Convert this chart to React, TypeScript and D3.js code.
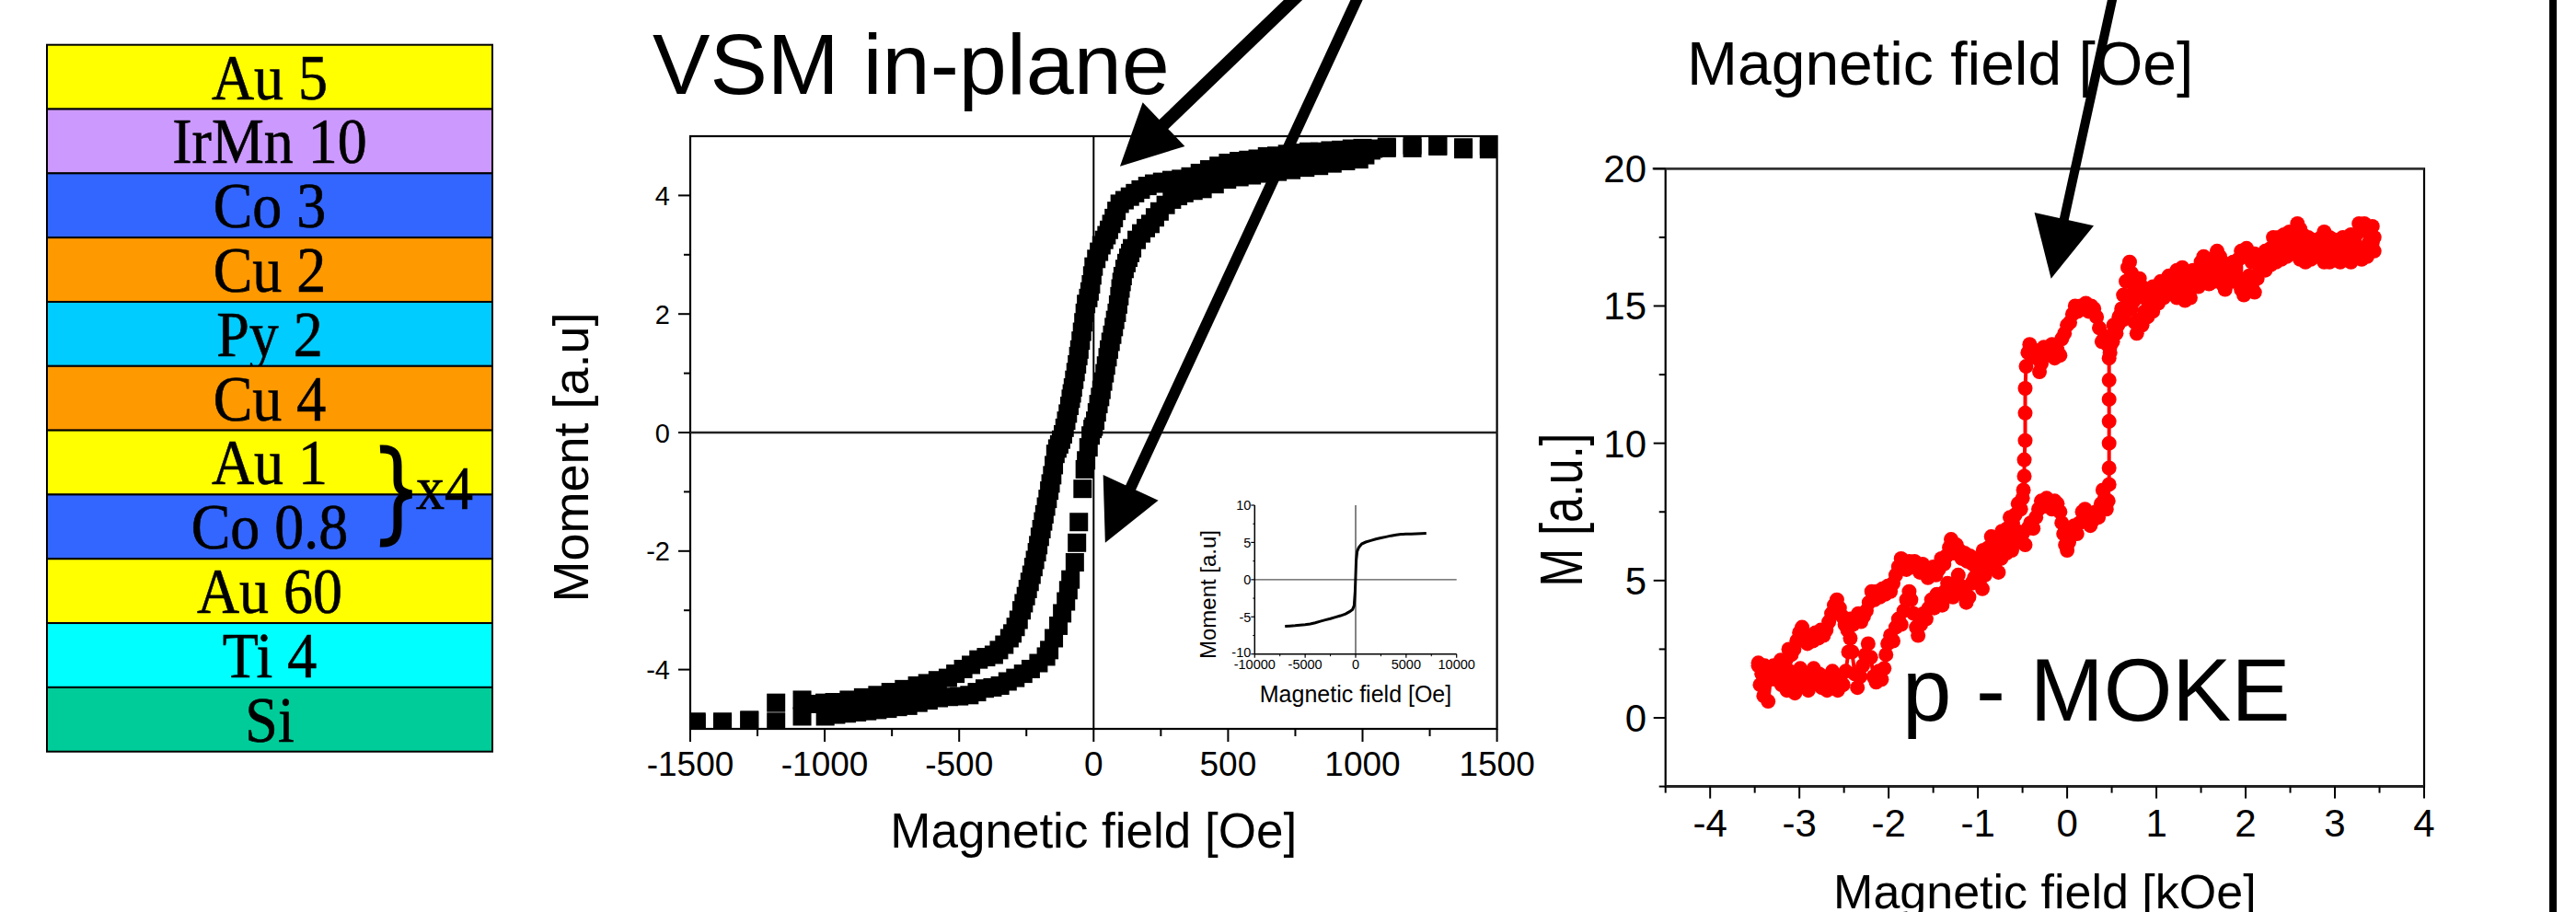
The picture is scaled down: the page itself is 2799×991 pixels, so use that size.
import React from "react";
import * as d3 from "d3";

const SANS = "'Liberation Sans', Arial, Helvetica, sans-serif";
const SERIF = "'Liberation Serif', 'Times New Roman', serif";

// sample stack, top to bottom (thickness in nm)
const layerNames = ["Au 5", "IrMn 10", "Co 3", "Cu 2", "Py 2", "Cu 4", "Au 1", "Co 0.8", "Au 60", "Ti 4", "Si"];
const layerColors = ["#ffff00", "#cc99ff", "#3366ff", "#ff9900", "#00ccff", "#ff9900", "#ffff00", "#3366ff", "#ffff00", "#00ffff", "#00cc99"];

// VSM in-plane loop, [field Oe, moment a.u.]
const vsmDescending: [number, number][] = [
  [1470, 4.84], [1375, 4.78], [1280, 4.83], [1185, 4.85], [1090, 4.8],
  [1040, 4.79], [1000, 4.8], [960, 4.79], [920, 4.77], [880, 4.76], [840, 4.74], [800, 4.74], [760, 4.72],
  [720, 4.7], [680, 4.67], [645, 4.66], [610, 4.62], [575, 4.6], [540, 4.58], [500, 4.55], [465, 4.5],
  [430, 4.44], [395, 4.38], [360, 4.32], [325, 4.28], [290, 4.26], [255, 4.23], [225, 4.2], [200, 4.16],
  [175, 4.1], [154, 4.04], [135, 3.98], [115, 3.92], [97, 3.86], [85, 3.74], [75, 3.62], [66, 3.52],
  [57, 3.42], [48, 3.33], [39, 3.25], [29, 3.16], [20, 3.05], [10, 2.93], [0, 2.8], [-5, 2.65],
  [-10, 2.5], [-15, 2.38], [-20, 2.27], [-28, 2.17], [-33, 2.02], [-38, 1.86], [-43, 1.7], [-48, 1.55],
  [-53, 1.4], [-57, 1.29], [-62, 1.15], [-67, 1.02], [-72, 0.89], [-77, 0.76], [-81, 0.66], [-85, 0.57],
  [-90, 0.45], [-96, 0.32], [-102, 0.2], [-108, 0.08], [-114, -0.03], [-121, -0.12], [-128, -0.2],
  [-135, -0.27], [-142, -0.36], [-148, -0.55], [-154, -0.72], [-160, -0.86], [-165, -0.98], [-171, -1.12],
  [-177, -1.25], [-183, -1.38], [-188, -1.5], [-194, -1.63], [-200, -1.76], [-206, -1.9], [-211, -2.02],
  [-218, -2.15], [-224, -2.27], [-231, -2.4], [-238, -2.52], [-245, -2.64], [-252, -2.76], [-260, -2.88],
  [-268, -3.0], [-279, -3.16], [-290, -3.28], [-302, -3.39], [-313, -3.47], [-332, -3.58], [-352, -3.67],
  [-371, -3.75], [-400, -3.79], [-428, -3.83], [-456, -3.92], [-485, -3.99], [-514, -4.07], [-542, -4.14],
  [-580, -4.18], [-618, -4.23], [-656, -4.27], [-705, -4.33], [-755, -4.38], [-804, -4.43], [-857, -4.47],
  [-910, -4.51], [-964, -4.55], [-1000, -4.56], [-1032, -4.58], [-1084, -4.51], [-1181, -4.56],
  [-1280, -4.86], [-1380, -4.88], [-1477, -4.88],
];
const vsmAscending: [number, number][] = [
  [-1477, -4.9], [-1380, -4.9], [-1280, -4.85], [-1181, -4.88], [-1084, -4.79],
  [-998, -4.79], [-958, -4.76], [-918, -4.74], [-880, -4.72], [-842, -4.7], [-804, -4.68], [-766, -4.66],
  [-728, -4.63], [-690, -4.61], [-652, -4.56], [-614, -4.52], [-576, -4.48], [-538, -4.46], [-500, -4.45],
  [-462, -4.43], [-434, -4.38], [-405, -4.32], [-376, -4.3], [-348, -4.27], [-320, -4.2], [-291, -4.14],
  [-262, -4.07], [-234, -3.99], [-205, -3.89], [-177, -3.78], [-165, -3.67], [-148, -3.47], [-131, -3.26],
  [-117, -3.05], [-103, -2.85], [-94, -2.66], [-86, -2.48], [-70, -2.19], [-62, -1.86], [-55, -1.51],
  [-41, -0.95], [-33, -0.62], [-28, -0.47], [-19, -0.25], [-11, -0.05], [-4, 0.06], [0, 0.1], [6, 0.2],
  [12, 0.34], [18, 0.48], [24, 0.6], [29, 0.72], [35, 0.86], [41, 1.0], [46, 1.13], [52, 1.27], [57, 1.4],
  [63, 1.53], [69, 1.65], [75, 1.78], [80, 1.9], [86, 2.02], [91, 2.16], [96, 2.3], [100, 2.43], [104, 2.54],
  [108, 2.64], [115, 2.76], [122, 2.86], [129, 2.95], [136, 3.03], [143, 3.11], [160, 3.25], [177, 3.36],
  [194, 3.45], [211, 3.52], [228, 3.63], [245, 3.73], [268, 3.84], [291, 3.93], [314, 3.99], [337, 4.04],
  [371, 4.08], [405, 4.11], [450, 4.19], [496, 4.27], [542, 4.31], [588, 4.34], [633, 4.37], [684, 4.4],
  [735, 4.43], [787, 4.47], [838, 4.5], [888, 4.54], [938, 4.58], [987, 4.61], [1010, 4.68], [1032, 4.76],
  [1090, 4.82], [1185, 4.8], [1280, 4.84], [1375, 4.81], [1470, 4.78],
];
const vsmMajorX = [-1500, -1000, -500, 0, 500, 1000, 1500];
const vsmMinorX = [-1250, -750, -250, 250, 750, 1250];
const vsmMajorY = [-4, -2, 0, 2, 4];
const vsmMinorY = [-3, -1, 1, 3];

// inset, wide field sweep
const insetLoop: [number, number][] = [
  [-7000, -6.25], [-6500, -6.22], [-6000, -6.18], [-5500, -6.12], [-5000, -6.06], [-4500, -5.95],
  [-4000, -5.8], [-3500, -5.6], [-3000, -5.42], [-2500, -5.25], [-2000, -5.05], [-1500, -4.85],
  [-1000, -4.6], [-600, -4.3], [-300, -4.0], [-150, -3.5], [-50, -1.5], [0, 0.5], [50, 2.5], [150, 3.8],
  [300, 4.3], [600, 4.8], [1000, 5.05], [1500, 5.25], [2000, 5.45], [2500, 5.6], [3000, 5.75], [3500, 5.9],
  [4000, 6.02], [4500, 6.1], [5000, 6.12], [5500, 6.15], [6000, 6.18], [6500, 6.2], [7000, 6.22],
];
const insetTicksX = [-10000, -5000, 0, 5000, 10000];
const insetMinorX = [-7500, -2500, 2500, 7500];
const insetTicksY = [-10, -5, 0, 5, 10];
const insetMinorY = [-7.5, -2.5, 2.5, 7.5];

// p-MOKE loop, [field kOe, M a.u.] -- rising sweep
const mokeAscending: [number, number][] = [
  [-3.46, 1.9], [-3.44, 1.2], [-3.42, 1.6], [-3.4, 0.8], [-3.38, 1.3], [-3.35, 0.6], [-3.32, 1.5], [-3.29, 1.9],
  [-3.26, 1.4], [-3.23, 1.8], [-3.2, 1.2], [-3.17, 1.6], [-3.14, 1.0], [-3.11, 1.7], [-3.08, 1.3], [-3.05, 0.9],
  [-3.02, 1.5], [-2.99, 1.8], [-2.96, 1.2], [-2.93, 1.6], [-2.9, 1.0], [-2.87, 1.4], [-2.84, 1.8], [-2.81, 1.3],
  [-2.78, 1.6], [-2.75, 1.1], [-2.72, 1.5], [-2.69, 1.0], [-2.66, 1.4], [-2.63, 1.7], [-2.6, 1.3], [-2.57, 1.0],
  [-2.54, 1.5], [-2.51, 1.2], [-2.48, 1.7], [-2.45, 2.4], [-2.43, 2.9], [-2.41, 2.4], [-2.38, 1.6], [-2.35, 1.1],
  [-2.32, 1.5], [-2.29, 1.9], [-2.26, 2.3], [-2.23, 2.7], [-2.2, 2.2], [-2.17, 1.5], [-2.14, 1.3], [-2.11, 1.7],
  [-2.08, 1.4], [-2.05, 1.8], [-2.03, 2.3], [-2.01, 2.7], [-1.98, 3.0], [-1.95, 2.8], [-1.92, 3.3], [-1.89, 3.6],
  [-1.86, 3.4], [-1.83, 3.9], [-1.8, 4.3], [-1.77, 4.6], [-1.75, 4.3], [-1.72, 3.8], [-1.69, 3.3], [-1.67, 3.0],
  [-1.64, 3.4], [-1.61, 3.8], [-1.58, 3.6], [-1.55, 4.0], [-1.52, 4.3], [-1.49, 4.0], [-1.46, 4.5], [-1.43, 4.2],
  [-1.4, 4.1], [-1.37, 4.6], [-1.34, 4.9], [-1.31, 4.5], [-1.28, 4.4], [-1.25, 4.9], [-1.22, 5.2], [-1.19, 4.8],
  [-1.16, 4.5], [-1.13, 4.2], [-1.1, 4.4], [-1.07, 4.9], [-1.04, 5.1], [-1.01, 5.4], [-0.98, 5.0], [-0.95, 4.7],
  [-0.92, 5.2], [-0.89, 5.6], [-0.86, 5.9], [-0.83, 5.5], [-0.8, 5.7], [-0.77, 5.3], [-0.74, 5.8], [-0.71, 6.2],
  [-0.68, 6.0], [-0.65, 6.4], [-0.62, 6.1], [-0.59, 6.5], [-0.56, 6.8], [-0.53, 6.4], [-0.5, 6.7], [-0.47, 6.3],
  [-0.44, 6.9], [-0.41, 7.1], [-0.38, 6.9], [-0.35, 7.3], [-0.32, 7.6], [-0.29, 7.9], [-0.26, 7.7], [-0.23, 8.0],
  [-0.2, 7.8], [-0.17, 7.6], [-0.14, 7.9], [-0.11, 7.8], [-0.08, 7.5], [-0.06, 7.1], [-0.04, 6.7], [-0.02, 6.3],
  [0.0, 6.1], [0.02, 6.4], [0.05, 6.8], [0.08, 7.0], [0.11, 6.7], [0.14, 7.1], [0.17, 7.5], [0.2, 7.6],
  [0.23, 7.3], [0.26, 7.0], [0.29, 7.2], [0.32, 7.5], [0.35, 7.3], [0.38, 7.8], [0.4, 8.3], [0.42, 8.0],
  [0.44, 7.6], [0.46, 7.9], [0.47, 8.5], [0.47, 9.1], [0.47, 10.0], [0.47, 10.8], [0.47, 11.6], [0.47, 12.3],
  [0.47, 13.1], [0.48, 13.5], [0.5, 13.9], [0.52, 14.3], [0.55, 14.0], [0.58, 14.6], [0.61, 14.9], [0.63, 15.4],
  [0.66, 15.9], [0.68, 16.4], [0.7, 16.6], [0.72, 16.2], [0.74, 15.5], [0.76, 14.4], [0.78, 14.0], [0.81, 14.5],
  [0.84, 14.3], [0.87, 14.8], [0.9, 14.6], [0.93, 15.0], [0.96, 14.8], [0.99, 15.3], [1.02, 15.1], [1.05, 15.6],
  [1.08, 15.3], [1.11, 15.7], [1.14, 15.5], [1.17, 15.9], [1.2, 15.6], [1.23, 15.3], [1.26, 15.7], [1.29, 15.4],
  [1.32, 15.2], [1.35, 15.6], [1.38, 15.3], [1.41, 15.8], [1.44, 16.1], [1.47, 15.7], [1.5, 16.2], [1.53, 15.9],
  [1.56, 16.3], [1.59, 15.8], [1.62, 16.1], [1.65, 15.9], [1.68, 16.3], [1.71, 16.0], [1.74, 15.8], [1.77, 15.6],
  [1.8, 15.9], [1.83, 16.2], [1.86, 15.9], [1.89, 16.3], [1.92, 16.0], [1.95, 15.6], [1.98, 15.4], [2.01, 15.8],
  [2.04, 16.1], [2.07, 15.7], [2.1, 15.5], [2.13, 16.0], [2.16, 16.3], [2.19, 16.6], [2.22, 16.3], [2.25, 16.7],
  [2.28, 16.5], [2.31, 16.9], [2.34, 16.6], [2.37, 16.9], [2.4, 16.7], [2.43, 17.0], [2.46, 16.8], [2.49, 17.1],
  [2.52, 16.9], [2.55, 17.2], [2.58, 16.9], [2.61, 16.7], [2.64, 16.9], [2.67, 16.6], [2.7, 16.9], [2.73, 16.7],
  [2.76, 17.0], [2.79, 16.8], [2.82, 17.1], [2.85, 16.8], [2.88, 16.6], [2.91, 16.9], [2.94, 16.6], [2.97, 16.8],
  [3.0, 17.0], [3.03, 16.7], [3.06, 16.6], [3.09, 16.9], [3.12, 17.1], [3.15, 16.8], [3.18, 16.6], [3.21, 16.9],
  [3.24, 17.2], [3.27, 16.9], [3.3, 16.7], [3.33, 17.0], [3.36, 16.8], [3.39, 17.1], [3.42, 17.3], [3.44, 17.0],
];
// p-MOKE loop -- falling sweep
const mokeDescending: [number, number][] = [
  [3.44, 17.5], [3.42, 17.9], [3.4, 17.6], [3.38, 17.3], [3.36, 17.7], [3.33, 18.0], [3.3, 17.8], [3.27, 18.0],
  [3.24, 17.6], [3.21, 17.3], [3.18, 17.6], [3.15, 17.4], [3.12, 17.2], [3.09, 17.5], [3.06, 17.3], [3.03, 17.1],
  [3.0, 17.4], [2.97, 17.2], [2.94, 17.5], [2.91, 17.3], [2.88, 17.7], [2.85, 17.5], [2.82, 17.2], [2.79, 17.4],
  [2.76, 17.1], [2.73, 17.3], [2.7, 17.5], [2.67, 17.3], [2.64, 17.6], [2.61, 17.8], [2.58, 18.0], [2.55, 17.7],
  [2.52, 17.5], [2.49, 17.7], [2.46, 17.4], [2.43, 17.6], [2.4, 17.3], [2.37, 17.5], [2.34, 17.2], [2.31, 17.5],
  [2.28, 17.1], [2.25, 16.8], [2.22, 17.0], [2.19, 16.7], [2.16, 16.4], [2.13, 16.7], [2.1, 16.9], [2.07, 16.6],
  [2.04, 16.9], [2.01, 17.1], [1.98, 16.8], [1.95, 17.0], [1.92, 16.7], [1.89, 16.4], [1.86, 16.6], [1.83, 16.2],
  [1.8, 16.0], [1.77, 16.3], [1.74, 16.6], [1.71, 16.8], [1.68, 17.0], [1.65, 16.7], [1.62, 16.4], [1.59, 16.7],
  [1.56, 16.5], [1.53, 16.8], [1.5, 16.6], [1.47, 16.3], [1.44, 16.0], [1.41, 16.3], [1.38, 16.1], [1.35, 15.9],
  [1.32, 16.2], [1.29, 16.4], [1.26, 16.1], [1.23, 16.3], [1.2, 16.0], [1.17, 15.8], [1.14, 16.1], [1.11, 15.9],
  [1.08, 15.7], [1.05, 15.9], [1.02, 15.6], [0.99, 15.4], [0.96, 15.7], [0.93, 15.5], [0.9, 15.2], [0.87, 15.4],
  [0.84, 15.7], [0.81, 16.0], [0.78, 15.6], [0.75, 15.2], [0.72, 14.9], [0.69, 15.2], [0.66, 14.8], [0.63, 14.5],
  [0.6, 14.7], [0.57, 14.3], [0.54, 14.0], [0.51, 13.7], [0.48, 13.3], [0.45, 13.6], [0.42, 13.9], [0.39, 13.7],
  [0.36, 14.2], [0.33, 14.6], [0.3, 14.9], [0.27, 15.0], [0.24, 14.8], [0.21, 15.1], [0.18, 14.9], [0.15, 15.0],
  [0.12, 14.8], [0.09, 15.0], [0.06, 14.7], [0.03, 14.4], [0.0, 14.3], [-0.03, 14.0], [-0.06, 13.8], [-0.08, 13.2],
  [-0.11, 13.4], [-0.14, 13.1], [-0.17, 13.6], [-0.2, 13.4], [-0.23, 13.2], [-0.26, 13.5], [-0.29, 12.9],
  [-0.31, 12.6], [-0.34, 13.1], [-0.37, 13.4], [-0.4, 13.2], [-0.42, 13.6], [-0.44, 13.3], [-0.46, 12.8],
  [-0.47, 12.0], [-0.47, 11.1], [-0.47, 10.1], [-0.48, 9.4], [-0.48, 8.8], [-0.49, 8.3], [-0.5, 8.0], [-0.52, 7.6],
  [-0.55, 7.8], [-0.58, 7.4], [-0.61, 7.1], [-0.64, 7.3], [-0.67, 6.9], [-0.7, 6.6], [-0.73, 6.8], [-0.76, 6.4],
  [-0.79, 6.1], [-0.82, 6.4], [-0.85, 6.6], [-0.88, 6.2], [-0.91, 5.9], [-0.94, 6.1], [-0.97, 5.7], [-1.0, 5.4],
  [-1.03, 5.8], [-1.06, 5.6], [-1.09, 5.9], [-1.12, 5.7], [-1.15, 6.0], [-1.18, 5.8], [-1.21, 6.1], [-1.24, 6.3],
  [-1.27, 6.0], [-1.3, 6.5], [-1.32, 6.2], [-1.35, 5.9], [-1.38, 5.6], [-1.41, 5.8], [-1.44, 5.4], [-1.47, 5.2],
  [-1.5, 5.5], [-1.53, 5.3], [-1.56, 5.1], [-1.59, 5.4], [-1.62, 5.6], [-1.65, 5.3], [-1.68, 5.5], [-1.71, 5.7],
  [-1.74, 5.5], [-1.77, 5.7], [-1.8, 5.4], [-1.83, 5.6], [-1.86, 5.8], [-1.89, 5.5], [-1.92, 5.2], [-1.95, 4.9],
  [-1.98, 4.6], [-2.01, 4.8], [-2.04, 4.5], [-2.07, 4.7], [-2.1, 4.4], [-2.13, 4.6], [-2.16, 4.3], [-2.19, 4.6],
  [-2.22, 4.2], [-2.25, 3.9], [-2.28, 3.7], [-2.31, 3.5], [-2.34, 3.8], [-2.37, 3.6], [-2.4, 3.4], [-2.43, 3.6],
  [-2.46, 3.2], [-2.49, 3.4], [-2.52, 3.7], [-2.55, 4.0], [-2.58, 4.3], [-2.61, 4.1], [-2.64, 3.8], [-2.67, 3.5],
  [-2.7, 3.2], [-2.73, 3.0], [-2.76, 3.2], [-2.79, 2.9], [-2.82, 3.1], [-2.85, 2.8], [-2.88, 3.0], [-2.91, 2.7],
  [-2.94, 3.0], [-2.97, 3.3], [-3.0, 3.1], [-3.03, 2.8], [-3.06, 2.5], [-3.09, 2.3], [-3.12, 2.5], [-3.15, 2.1],
  [-3.18, 1.9], [-3.21, 2.1], [-3.24, 1.7], [-3.27, 1.5], [-3.3, 1.8], [-3.33, 1.4], [-3.36, 1.7], [-3.39, 1.9],
  [-3.42, 1.6], [-3.46, 2.0],
];
const mokeMajorX = [-4, -3, -2, -1, 0, 1, 2, 3, 4];
const mokeMinorX = [-4.5, -3.5, -2.5, -1.5, -0.5, 0.5, 1.5, 2.5, 3.5];
const mokeMajorY = [0, 5, 10, 15, 20];
const mokeMinorY = [-2.5, 2.5, 7.5, 12.5, 17.5];

const fmt = (v: number) => String(v);

const Arrow = ({ tail, tip, width }: { tail: number[]; tip: number[]; width: number }) => {
  const dx = tip[0] - tail[0];
  const dy = tip[1] - tail[1];
  const len = Math.hypot(dx, dy);
  const ux = dx / len, uy = dy / len;
  const headLen = 66, half = 33;
  const bx = tip[0] - ux * headLen, by = tip[1] - uy * headLen;
  const px = -uy, py = ux;
  return (
    <g>
      <line x1={tail[0] - ux * 30} y1={tail[1] - uy * 30} x2={bx + ux * 4} y2={by + uy * 4} stroke="#000" strokeWidth={width} />
      <polygon
        points={`${tip[0]},${tip[1]} ${bx + px * half},${by + py * half} ${bx - px * half},${by - py * half}`}
        fill="#000"
      />
    </g>
  );
};

const Stack = () => {
  const band = d3.scaleBand<number>().domain(d3.range(layerNames.length)).range([48.7, 816.7]).padding(0);
  const x0 = 51, x1 = 535;
  const cx = (x0 + x1) / 2;
  return (
    <g>
      {layerNames.map((name, i) => {
        const y = band(i) as number;
        const h = band.bandwidth();
        return (
          <g key={i}>
            <rect x={x0} y={y} width={x1 - x0} height={h} fill={layerColors[i]} stroke="#000" strokeWidth={2} />
            <text
              transform={`translate(${cx},${y + h - 11}) scale(1,1.1)`}
              textAnchor="middle"
              fontFamily={SERIF}
              fontSize={64}
              fill="#000"
              stroke="#000"
              strokeWidth={0.6}
            >
              {name}
            </text>
          </g>
        );
      })}
      <path
        d="M 413 488 C 429 487 432 494 432 506 L 432 522 C 432 531 436 535 447 537 C 436 539 432 543 432 552 L 432 571 C 432 583 429 591 413 590"
        fill="none"
        stroke="#000"
        strokeWidth={9}
      />
      <text transform="translate(452,553) scale(1,1.1)" fontFamily={SERIF} fontSize={62} fill="#000" stroke="#000" strokeWidth={0.6}>
        x4
      </text>
    </g>
  );
};

const Inset = () => {
  const x = d3.scaleLinear().domain([-10000, 10000]).range([1363.3, 1582.7]);
  const y = d3.scaleLinear().domain([-10, 10]).range([710.7, 549]);
  const line = d3.line<[number, number]>().x((d) => x(d[0])).y((d) => y(d[1]));
  return (
    <g fontFamily={SANS}>
      <line x1={x(-10000)} x2={x(10000)} y1={y(0)} y2={y(0)} stroke="#555" strokeWidth={1.2} />
      <line x1={x(0)} x2={x(0)} y1={y(10)} y2={y(-10)} stroke="#333" strokeWidth={1.2} />
      <line x1={x(-10000)} x2={x(-10000)} y1={y(10)} y2={y(-10)} stroke="#000" strokeWidth={1.5} />
      <line x1={x(-10000)} x2={x(10000)} y1={y(-10)} y2={y(-10)} stroke="#000" strokeWidth={1.5} />
      {insetTicksY.map((t) => (
        <g key={t}>
          <line x1={x(-10000) - 4} x2={x(-10000)} y1={y(t)} y2={y(t)} stroke="#000" strokeWidth={1.2} />
          <text x={x(-10000) - 4} y={y(t) + (t === -10 ? 3 : 5.4)} textAnchor="end" fontSize={14.5}>{fmt(t)}</text>
        </g>
      ))}
      {insetMinorY.map((t) => (
        <line key={t} x1={x(-10000) - 2} x2={x(-10000)} y1={y(t)} y2={y(t)} stroke="#000" strokeWidth={1} />
      ))}
      {insetTicksX.map((t) => (
        <g key={t}>
          <line x1={x(t)} x2={x(t)} y1={y(-10)} y2={y(-10) + 4} stroke="#000" strokeWidth={1.2} />
          <text x={x(t)} y={727} textAnchor="middle" fontSize={14.5}>{fmt(t)}</text>
        </g>
      ))}
      {insetMinorX.map((t) => (
        <line key={t} x1={x(t)} x2={x(t)} y1={y(-10)} y2={y(-10) + 2.5} stroke="#000" strokeWidth={1} />
      ))}
      <path d={line(insetLoop) || ""} fill="none" stroke="#000" strokeWidth={3} />
      <text x={1473} y={763} textAnchor="middle" fontSize={25}>Magnetic field [Oe]</text>
      <text transform="translate(1321,646) rotate(-90)" textAnchor="middle" fontSize={24}>Moment [a.u]</text>
    </g>
  );
};

const VsmPanel = () => {
  const x = d3.scaleLinear().domain([-1500, 1500]).range([750, 1626.6]);
  const y = d3.scaleLinear().domain([-5, 5]).range([792, 148]);
  const [xl, xr] = x.range();
  const [yb, yt] = y.range();
  const sq = 20;
  const all = [...vsmDescending, ...vsmAscending];
  return (
    <g fontFamily={SANS}>
      <defs>
        <clipPath id="vsmClip">
          <rect x={xl} y={yt} width={xr - xl} height={yb - yt} />
        </clipPath>
      </defs>
      <text x={709} y={102} fontSize={93.6}>VSM in-plane</text>
      <rect x={xl} y={yt} width={xr - xl} height={yb - yt} fill="none" stroke="#000" strokeWidth={2.2} />
      <line x1={xl} x2={xr} y1={y(0)} y2={y(0)} stroke="#222" strokeWidth={2.4} />
      <line x1={x(0)} x2={x(0)} y1={yt} y2={yb} stroke="#000" strokeWidth={2} />
      {vsmMajorY.map((t) => (
        <g key={t}>
          <line x1={xl - 13} x2={xl} y1={y(t)} y2={y(t)} stroke="#000" strokeWidth={2} />
          <text x={xl - 22} y={y(t) + 10.5} textAnchor="end" fontSize={29}>{fmt(t)}</text>
        </g>
      ))}
      {vsmMinorY.map((t) => (
        <line key={t} x1={xl - 7} x2={xl} y1={y(t)} y2={y(t)} stroke="#000" strokeWidth={2} />
      ))}
      {vsmMajorX.map((t) => (
        <g key={t}>
          <line x1={x(t)} x2={x(t)} y1={yb} y2={yb + 14} stroke="#000" strokeWidth={2} />
          <text x={x(t)} y={843} textAnchor="middle" fontSize={37}>{fmt(t)}</text>
        </g>
      ))}
      {vsmMinorX.map((t) => (
        <line key={t} x1={x(t)} x2={x(t)} y1={yb} y2={yb + 8} stroke="#000" strokeWidth={2} />
      ))}
      <g clipPath="url(#vsmClip)">
        {all.map((d, i) => (
          <rect key={i} x={x(d[0]) - sq / 2} y={y(d[1]) - sq / 2} width={sq} height={sq} fill="#000" />
        ))}
      </g>
      <Inset />
      <text x={(xl + xr) / 2} y={921} textAnchor="middle" fontSize={53}>Magnetic field [Oe]</text>
      <text transform="translate(639,497) rotate(-90)" textAnchor="middle" fontSize={54}>Moment [a.u]</text>
    </g>
  );
};

const MokePanel = () => {
  const x = d3.scaleLinear().domain([-4.5, 4]).range([1809.7, 2634]);
  const y = d3.scaleLinear().domain([-2.5, 20]).range([854.6, 183.3]);
  const [xl, xr] = x.range();
  const [yb, yt] = y.range();
  const line = d3.line<[number, number]>().x((d) => x(d[0])).y((d) => y(d[1]));
  const pts = [...mokeAscending, ...mokeDescending];
  return (
    <g fontFamily={SANS}>
      <text x={1833} y={92} fontSize={66}>Magnetic field [Oe]</text>
      <rect x={xl} y={yt} width={xr - xl} height={yb - yt} fill="none" stroke="#000" strokeWidth={2.2} />
      <line x1={xl} x2={xr} y1={yb} y2={yb} stroke="#222" strokeWidth={3} />
      <line x1={xl - 14} x2={xr} y1={yt} y2={yt} stroke="#333" strokeWidth={2.6} />
      {mokeMajorY.map((t) => (
        <g key={t}>
          <line x1={xl - 13} x2={xl} y1={y(t)} y2={y(t)} stroke="#000" strokeWidth={2} />
          <text x={1789} y={y(t) + 15} textAnchor="end" fontSize={42}>{fmt(t)}</text>
        </g>
      ))}
      {mokeMinorY.map((t) => (
        <line key={t} x1={xl - 7} x2={xl} y1={y(t)} y2={y(t)} stroke="#000" strokeWidth={2} />
      ))}
      {mokeMajorX.map((t) => (
        <g key={t}>
          <line x1={x(t)} x2={x(t)} y1={yb} y2={yb + 13} stroke="#000" strokeWidth={2} />
          <text x={x(t)} y={908.6} textAnchor="middle" fontSize={42}>{fmt(t)}</text>
        </g>
      ))}
      {mokeMinorX.map((t) => (
        <line key={t} x1={x(t)} x2={x(t)} y1={yb} y2={yb + 7} stroke="#000" strokeWidth={2} />
      ))}
      <path d={line(pts) || ""} fill="none" stroke="#ff0000" strokeWidth={4} />
      {pts.map((d, i) => (
        <circle key={i} cx={x(d[0])} cy={y(d[1])} r={8} fill="#ff0000" />
      ))}
      <text x={2067} y={783} fontSize={96}>p - MOKE</text>
      <text x={(xl + xr) / 2} y={987} textAnchor="middle" fontSize={52}>Magnetic field [kOe]</text>
      <text
        transform="translate(1719,554) rotate(-90)"
        textAnchor="middle"
        fontSize={64}
        textLength={167}
        lengthAdjust="spacingAndGlyphs"
      >
        M [a.u.]
      </text>
    </g>
  );
};

export default function App() {
  const vx = d3.scaleLinear().domain([-1500, 1500]).range([750, 1626.6]);
  const vy = d3.scaleLinear().domain([-5, 5]).range([792, 148]);
  const mx = d3.scaleLinear().domain([-4.5, 4]).range([1809.7, 2634]);
  const my = d3.scaleLinear().domain([-2.5, 20]).range([854.6, 183.3]);
  return (
    <svg
      width={2799}
      height={991}
      viewBox="0 0 2799 991"
      style={{ position: "absolute", left: 0, top: 0, display: "block", background: "#fff" }}
    >
      <rect width={2799} height={991} fill="#fff" />
      <Stack />
      <VsmPanel />
      <MokePanel />
      <rect x={2770} y={0} width={8} height={991} fill="#000" />
      <Arrow tail={[1405, 0]} tip={[vx(98), vy(4.49)]} width={14} />
      <Arrow tail={[1474, 0]} tip={[vx(43), vy(-1.86)]} width={12} />
      <Arrow tail={[2295, 0]} tip={[mx(-0.18), my(16.0)]} width={10} />
    </svg>
  );
}
